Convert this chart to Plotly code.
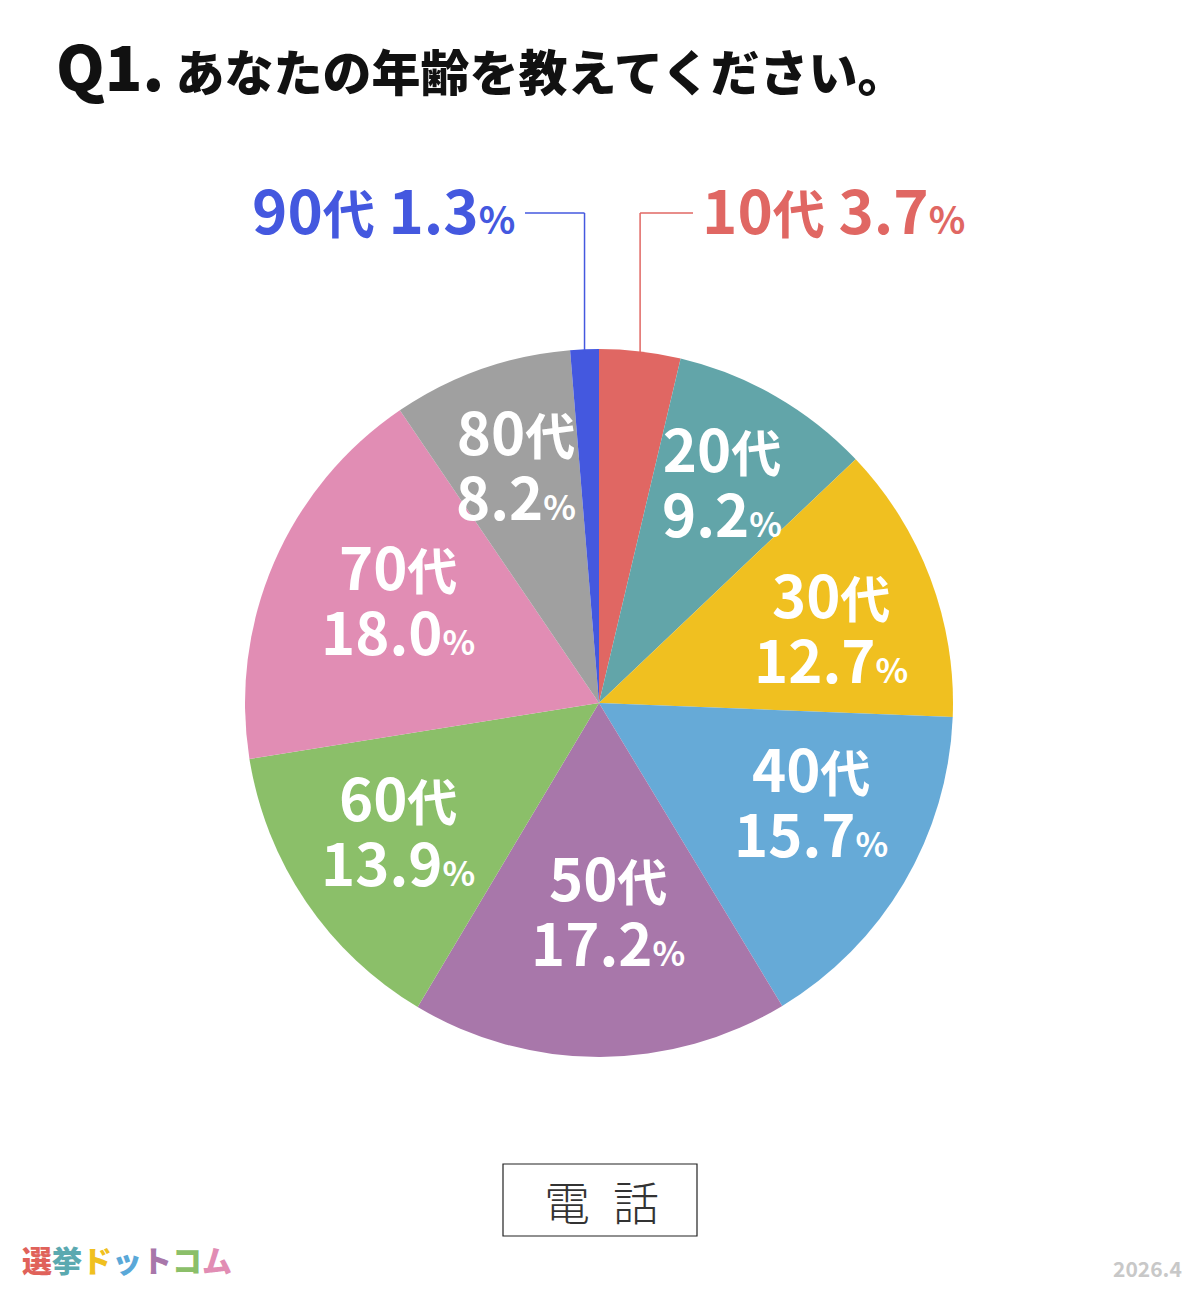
import math
import plotly.graph_objects as go

# ---- data ----
categories = ["10代", "20代", "30代", "40代", "50代", "60代", "70代", "80代", "90代"]
values = [3.7, 9.2, 12.7, 15.7, 17.2, 13.9, 18.0, 8.2, 1.3]
colors = ["#E06763", "#62A5A9", "#F0C020", "#66AAD7", "#A877AA",
          "#8BBF69", "#E18DB4", "#A0A0A0", "#4458DF"]
title_q = "Q1."
title_text = "あなたの年齢を教えてください。"
legend_text = "電\u2002話"
logo_chars = ["選", "挙", "ド", "ッ", "ト", "コ", "ム"]
logo_colors = ["#E0625A", "#5BA9B0", "#F0C020", "#5AA8D8", "#A877AA", "#8BBF69", "#E18DB4"]
date_text = "2026.4"

# ---- layout geometry (screen pixels; page has an 8px body margin) ----
OFF = 8
W, H = 1184, 1284
CX, CY, R = 599, 703, 354
# label placement (style): radius fraction and angle nudge (degrees) per slice
inside_rf = [None, 0.712, 0.687, 0.662, 0.591, 0.675, 0.635, 0.707, None]
inside_dang = [0, -0.7, 3.1, -5.2, -2.3, 1.4, 3.4, 0.1, 0]
outside = {0: ("left", 700, 213, 693), 8: ("right", 517, 213, 525)}

def px(x):
    return (x - OFF) / W

def py(y):
    return (H - (y - OFF)) / H

FONT = "Noto Sans CJK JP, Noto Sans, sans-serif"

fig = go.Figure()
fig.add_trace(go.Pie(
    labels=categories, values=values, sort=False, direction="clockwise",
    rotation=0, marker=dict(colors=colors, line=dict(width=0)),
    textinfo="none", hoverinfo="skip", showlegend=False,
    domain=dict(x=[px(CX - R), px(CX + R)], y=[py(CY + R), py(CY - R)]),
))

annotations = []
shapes = []
total = sum(values)
cum = 0.0
for i, (cat, v) in enumerate(zip(categories, values)):
    mid = 2 * math.pi * (cum + v / 2) / total
    cum += v
    num = cat.replace("代", "")
    if inside_rf[i] is not None:
        rf = inside_rf[i]
        a = mid + math.radians(inside_dang[i])
        x = CX + rf * R * math.sin(a)
        y = CY - rf * R * math.cos(a)
        txt = (f"<span style='font-size:58px'>{num}</span>代<br>"
               f"<span style='font-size:58px'>{v:.1f}</span>"
               f"<span style='font-size:34px'>%</span>")
        annotations.append(dict(
            x=px(x), y=py(y - 4), xref="paper", yref="paper", text=txt,
            showarrow=False, xanchor="center", yanchor="middle", align="center",
            font=dict(family=FONT, size=50, color="white", weight="bold"),
        ))
    else:
        anchor, lx, ly, lend = outside[i]
        ex = CX + R * math.sin(mid)
        ey = CY - R * math.cos(mid)
        txt = (f"{num}<span style='font-size:52px'>代</span> "
               f"{v:.1f}<span style='font-size:38px'>%</span>")
        annotations.append(dict(
            x=px(lx), y=py(ly - 6), xref="paper", yref="paper", text=txt,
            showarrow=False, xanchor=anchor, yanchor="middle",
            font=dict(family=FONT, size=60, color=colors[i], weight="bold"),
        ))
        shapes.append(dict(type="line", xref="paper", yref="paper",
                           x0=px(ex), y0=py(ey + 2), x1=px(ex), y1=py(ly),
                           line=dict(color=colors[i], width=1.5)))
        shapes.append(dict(type="line", xref="paper", yref="paper",
                           x0=px(ex), y0=py(ly), x1=px(lend), y1=py(ly),
                           line=dict(color=colors[i], width=1.5)))

# title
annotations.append(dict(
    x=px(54), y=py(64), xref="paper", yref="paper",
    text=f"<span style='font-size:62px'>{title_q}</span> {title_text}",
    showarrow=False, xanchor="left", yanchor="middle",
    font=dict(family=FONT, size=49, color="#111111", weight=900),
))

# legend box
shapes.append(dict(type="rect", xref="paper", yref="paper",
                   x0=px(503), x1=px(697), y0=py(1236), y1=py(1164),
                   line=dict(color="#222222", width=1.2), fillcolor="white"))
annotations.append(dict(
    x=px(601), y=py(1200), xref="paper", yref="paper", text=legend_text,
    showarrow=False, xanchor="center", yanchor="middle",
    font=dict(family=FONT, size=46, color="#333333", weight=300),
))

# logo
logo = "".join(f"<span style='color:{c}'>{ch}</span>" for ch, c in zip(logo_chars, logo_colors))
annotations.append(dict(
    x=px(20), y=py(1259), xref="paper", yref="paper", text=logo,
    showarrow=False, xanchor="left", yanchor="middle",
    font=dict(family=FONT, size=30, color="#000", weight=900),
))

# date
annotations.append(dict(
    x=px(1184), y=py(1268), xref="paper", yref="paper", text=date_text,
    showarrow=False, xanchor="right", yanchor="middle",
    font=dict(family=FONT, size=21, color="#C8C8C8", weight="bold"),
))

fig.update_layout(
    width=W, height=H, margin=dict(l=0, r=0, t=0, b=0),
    paper_bgcolor="white", plot_bgcolor="white",
    annotations=annotations, shapes=shapes,
)

fig.write_html("out.html")
